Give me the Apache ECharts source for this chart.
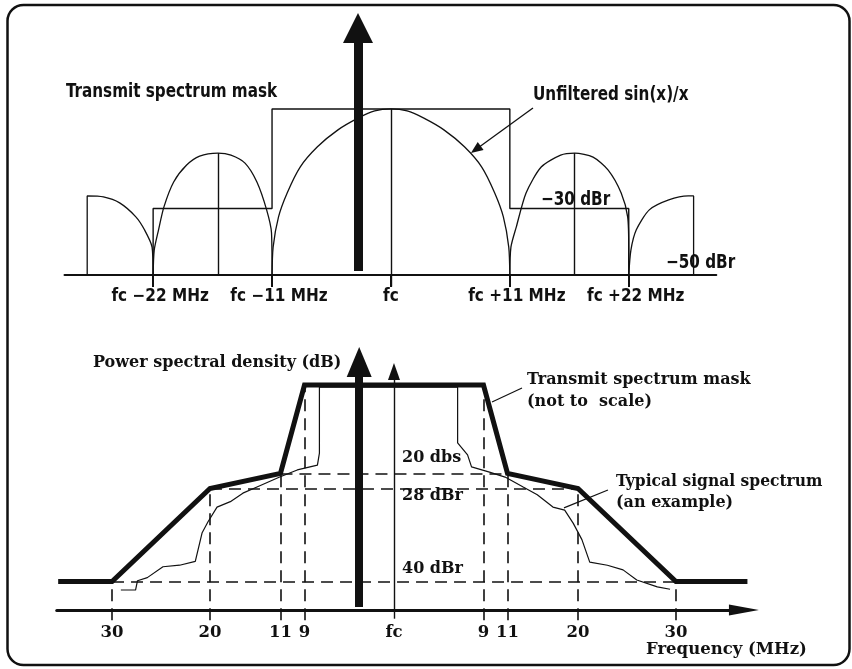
<!DOCTYPE html>
<html>
<head>
<meta charset="utf-8">
<script src="https://cdn.jsdelivr.net/npm/echarts@6/dist/echarts.min.js"></script>
<style>
  html, body { margin: 0; padding: 0; background: #fff; }
  #chart { width: 852px; height: 669px; }
</style>
</head>
<body>
<div id="chart"></div>
<script>
// ---------- upper figure: unfiltered sin(x)/x against the transmit mask (MHz from fc, dBr)
var topTicks = [-22, -11, 0, 11, 22];
var topTickLabels = ['fc \u221222 MHz', 'fc \u221211 MHz', 'fc', 'fc +11 MHz', 'fc +22 MHz'];

var lobeEdgeLeft = [[-28.1, -50], [-28.1, -26.2], [-26.6, -26.5], [-25.1, -28.3], [-23.6, -32.5], [-22.8, -36.4], [-22.1, -41.6], [-22, -50]];
var lobeSideLeft = [[-22, -50], [-21.9, -42.5], [-21.5, -36.4], [-21, -29.5], [-20.1, -22.0], [-18.9, -16.9], [-17.7, -14.2], [-16, -13.3], [-14.8, -13.9], [-13.5, -16.3], [-12.4, -22.0], [-11.5, -30.4], [-11.05, -37.3], [-11, -50]];
var lobeMain = [[-11, -50], [-10.9, -41.6], [-10.4, -32.5], [-9.6, -25.3], [-8.4, -17.5], [-6.8, -11.4], [-4.9, -6.3], [-3, -2.7], [-1.5, -0.6], [0, 0], [1.5, -0.6], [3, -2.7], [4.9, -6.3], [6.8, -11.4], [8.4, -17.5], [9.6, -25.3], [10.4, -32.5], [10.9, -41.6], [11, -50]];
var lobeSideRight = [[11, -50], [11.1, -41.6], [11.6, -35.5], [12.5, -25.3], [13.9, -17.5], [15.7, -13.9], [17, -13.3], [18.7, -14.5], [20.1, -18.4], [21.3, -25.3], [21.9, -32.5], [22, -42.5], [22, -50]];
var lobeEdgeRight = [[22, -50], [22.2, -42.5], [22.7, -36.4], [23.9, -30.4], [25.7, -27.4], [27.5, -26.2], [28, -26.2], [28, -50]];
var lobePeaks = [[-16, -13.3], [0, 0], [17, -13.3]];
var maskUpper = [[-22, -50], [-22, -30], [-11, -30], [-11, 0], [11, 0], [11, -30], [22, -30], [22, -50]];

// ---------- lower figure: PSD mask and a typical signal (MHz from fc, dB below peak)
var psdTicks = [-30, -20, -11, -9, 0, 9, 11, 20, 30];
var psdTickLabels = ['30', '20', '11', '9', 'fc', '9', '11', '20', '30'];
var maskFreq = [-35.5, -30, -20, -11, -9, 9, 11, 20, 30, 37.3];
var maskDb = [-40, -40, -28, -20, 0, 0, -20, -28, -40, -40];
var signalFreq = [-29.1, -27.6, -27.4, -26.4, -24.8, -23.1, -21.5, -20.8, -20.2, -19.1, -17.4, -15.8, -14, -11.1, -9.6, -7.7, -7.5, -7.5,
  6.4, 6.4, 7.4, 7.8, 9.5, 10.8, 13, 14.8, 16.8, 18.3, 19.4, 20.4, 21.2, 23, 24.6, 26, 28.1, 29.4];
var signalDb = [-41.1, -41.1, -39.9, -39.5, -38.1, -37.9, -37.4, -33.7, -32.3, -30.4, -29.7, -28.6, -27.2, -21.9, -19.2, -18.1, -15.4, -0.5,
  -0.5, -13.1, -15.8, -18.5, -19.7, -21.9, -27.2, -28.8, -30.4, -30.8, -32.5, -34.6, -37.5, -37.9, -38.5, -39.8, -40.7, -41];
var levelDb = [-20, -28, -40];
var levelText = ['20 dbs', '28 dBr', '40 dBr'];
var levelReach = [11, 20, 30];   // each dashed level runs between the mask corners at +-this MHz

// the lower figure is "not to scale": where each labelled frequency / level sits on the drawn axes
var freqRuler = [[0, 0], [9, 9.42], [11, 11.95], [20, 19.37], [30, 29.68]];
var levelRuler = [[0, 0], [20, 19.67], [28, 23.0], [40, 43.67]];
function ruler(r, v) {
  var s = v < 0 ? -1 : 1, a = Math.abs(v);
  for (var i = 1; i < r.length; i++) {
    if (a <= r[i][0] || i === r.length - 1) {
      var p = r[i - 1], q = r[i];
      return s * (p[1] + (a - p[0]) * (q[1] - p[1]) / (q[0] - p[0]));
    }
  }
}
function at(f, db) { return [ruler(freqRuler, f), ruler(levelRuler, db)]; }

var ink = '#111';
var sansC = '"Liberation Sans Narrow", "DejaVu Sans Condensed", "Liberation Sans", sans-serif';
var serif = '"DejaVu Serif", "Liberation Serif", serif';

function thin(data, xi, w) {
  return {
    type: 'line', xAxisIndex: xi, yAxisIndex: xi, data: data, symbol: 'none', clip: false, silent: true,
    smooth: xi === 0 ? 0.25 : false,
    lineStyle: { color: ink, width: w || 1.3 }
  };
}
function seg(a, b) { return [{ coord: a }, { coord: b }]; }
function arrow(xi, a, b, w, size) {
  return {
    type: 'line', xAxisIndex: xi, yAxisIndex: xi, data: [], silent: true,
    markLine: {
      silent: true, animation: false, symbol: ['none', 'triangle'], symbolSize: size,
      label: { show: false }, lineStyle: { color: ink, width: w, type: 'solid' },
      data: [seg(a, b)]
    }
  };
}

var series = [];
[lobeEdgeLeft, lobeSideLeft, lobeMain, lobeSideRight, lobeEdgeRight].forEach(function (l) { series.push(thin(l, 0)); });
series.push(thin(maskUpper, 0, 1.4));
series.push({
  type: 'line', xAxisIndex: 0, yAxisIndex: 0, data: [], silent: true,
  markLine: {
    silent: true, animation: false, symbol: 'none', label: { show: false },
    lineStyle: { color: ink, width: 1.4, type: 'solid' },
    data: lobePeaks.map(function (p) { return seg([p[0], p[1]], [p[0], p[0] === 0 ? -53.5 : -50]); })
  }
});
series.push(arrow(0, [-3.05, -48.8], [-3.05, 24.4], 9, [30, 30]));
series.push(arrow(0, [13.14, 0.3], [7.85, -12.2], 1.3, [10, 12]));

// lower figure
series.push({
  type: 'line', xAxisIndex: 1, yAxisIndex: 1, symbol: 'none', clip: false, silent: true,
  data: maskFreq.map(function (f, i) { return at(f, maskDb[i]); }),
  lineStyle: { color: ink, width: 5, join: 'miter' }
});
series.push({
  type: 'line', xAxisIndex: 1, yAxisIndex: 1, symbol: 'none', clip: false, silent: true,
  data: signalFreq.map(function (f, i) { return at(f, signalDb[i]); }),
  lineStyle: { color: ink, width: 1.2 }
});
var dashSegs = [];
levelDb.forEach(function (db, i) {
  dashSegs.push(seg(at(-levelReach[i], db), at(levelReach[i], db)));
});
psdTicks.forEach(function (f) {
  if (f === 0) return;
  var k = maskFreq.indexOf(f);
  dashSegs.push(seg(at(f, -45), at(f, maskDb[k])));
});
series.push({
  type: 'line', xAxisIndex: 1, yAxisIndex: 1, data: [], silent: true,
  markLine: {
    silent: true, animation: false, symbol: 'none', label: { show: false },
    lineStyle: { color: ink, width: 1.6, type: [12, 7] },
    data: dashSegs
  }
});
series.push(arrow(1, at(0, -44.8), at(0, 3.05), 1.4, [12, 17]));
series.push(arrow(1, at(-3.5, -43.3), at(-3.5, 5.2), 8, [25, 30]));
series.push(arrow(1, at(9.71, -3.84), at(12.85, -0.68), 1.2, [0, 0]));
series.push(arrow(1, at(18.21, -30.5), at(23.06, -28.2), 1.2, [0, 0]));

function pickLabel(ticks, labels, warp) {
  return function (v) {
    var best = 0;
    for (var i = 1; i < ticks.length; i++) {
      if (Math.abs(warp(ticks[i]) - v) < Math.abs(warp(ticks[best]) - v)) best = i;
    }
    return labels[best];
  };
}

function note(x, y, text, font, size, sx) {
  return {
    type: 'text', x: x, y: y, scaleX: sx || 1, silent: true,
    style: { text: text, fontFamily: font, fontWeight: 'bold', fontSize: size, fill: ink, verticalAlign: 'middle' }
  };
}

var option = {
  animation: false,
  backgroundColor: '#fff',
  grid: [
    // y runs a bit below the baseline so the ticks / dashed drops stay inside the axis range
    { left: 64.5, width: 651.8, top: 12.7, height: 274.2 },
    { left: 56.75, width: 687.2, top: 347, height: 274.23 }
  ],
  xAxis: [
    {
      gridIndex: 0, type: 'value', min: -30.2, max: 30.1, offset: -11.95,
      axisLine: { show: true, onZero: false, lineStyle: { color: ink, width: 2 } },
      axisTick: { show: true, customValues: topTicks, length: 12, lineStyle: { color: ink, width: 2 } },
      axisLabel: {
        customValues: topTicks, margin: 13, color: ink, fontFamily: sansC, fontWeight: 'bold', fontSize: 17,
        formatter: function (v) {
          var t = pickLabel(topTicks, topTickLabels, function (x) { return x; })(v);
          return t === 'fc' ? t : '{m|' + t + '}';
        },
        rich: { m: { fontFamily: sansC, fontWeight: 'bold', fontSize: 17, color: ink, padding: [0, 0, 0, 14] } }
      },
      splitLine: { show: false }
    },
    {
      gridIndex: 1, type: 'value', min: -35.5, max: 36.84, offset: -11.23,
      axisLine: { show: true, onZero: false, symbol: ['none', 'triangle'], symbolSize: [11, 30], lineStyle: { color: ink, width: 3 } },
      axisTick: { show: false },
      axisLabel: {
        customValues: psdTicks.map(function (f) { return ruler(freqRuler, f); }),
        margin: 14, color: ink, fontFamily: serif, fontWeight: 'bold', fontSize: 16.5,
        formatter: pickLabel(psdTicks, psdTickLabels, function (f) { return ruler(freqRuler, f); })
      },
      splitLine: { show: false }
    }
  ],
  yAxis: [
    { gridIndex: 0, type: 'value', min: -53.6, max: 29, show: false, splitLine: { show: false } },
    { gridIndex: 1, type: 'value', min: -52.5, max: 8.44, show: false, splitLine: { show: false } }
  ],
  graphic: [
    { type: 'rect', silent: true, shape: { x: 7.5, y: 5, width: 842, height: 660, r: 16 }, style: { fill: 'none', stroke: ink, lineWidth: 2.5 } },
    note(66, 92, 'Transmit spectrum mask', sansC, 19, 0.89),
    note(533, 95, 'Unfiltered sin(x)/x', sansC, 19, 0.89),
    note(541, 200, '\u221230 dBr', sansC, 19, 0.89),
    note(666, 263, '\u221250 dBr', sansC, 19, 0.89),
    note(93, 363, 'Power spectral density (dB)', serif, 16),
    note(527, 380, 'Transmit spectrum mask', serif, 16),
    note(527, 402, '(not to  scale)', serif, 16),
    note(616, 482, 'Typical signal spectrum', serif, 16, 0.97),
    note(616, 503, '(an example)', serif, 16),
    note(402, 458, levelText[0], serif, 16),
    note(402, 496, levelText[1], serif, 16),
    note(402, 569, levelText[2], serif, 16),
    note(646, 650, 'Frequency (MHz)', serif, 16.5)
  ],
  series: series
};

var chart = echarts.init(document.getElementById('chart'), null, { renderer: 'canvas' });
chart.setOption(option);
</script>
</body>
</html>
